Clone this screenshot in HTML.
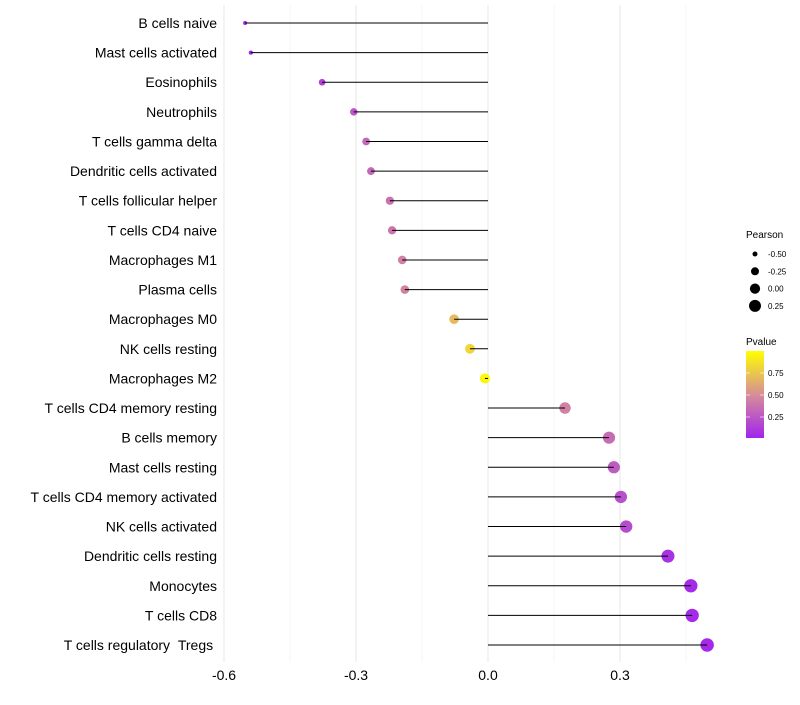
<!DOCTYPE html>
<html><head><meta charset="utf-8"><style>
body{margin:0;background:#fff;font-family:"Liberation Sans",sans-serif}
text{white-space:pre}
</style></head><body>
<svg id="c" width="800" height="700" xmlns="http://www.w3.org/2000/svg"></svg>
<script>
const categories=["B cells naive","Mast cells activated","Eosinophils","Neutrophils","T cells gamma delta","Dendritic cells activated","T cells follicular helper","T cells CD4 naive","Macrophages M1","Plasma cells","Macrophages M0","NK cells resting","Macrophages M2","T cells CD4 memory resting","B cells memory","Mast cells resting","T cells CD4 memory activated","NK cells activated","Dendritic cells resting","Monocytes","T cells CD8","T cells regulatory\u00a0\u00a0Tregs\u00a0"];
const pearson=[-0.552,-0.539,-0.377,-0.305,-0.277,-0.266,-0.223,-0.218,-0.195,-0.189,-0.077,-0.041,-0.007,0.175,0.275,0.286,0.302,0.314,0.409,0.461,0.464,0.498];
const pvalue=[0.03,0.04,0.15,0.25,0.33,0.33,0.38,0.4,0.45,0.46,0.7,0.82,0.97,0.45,0.35,0.28,0.22,0.2,0.08,0.05,0.05,0.04];
const xTicks=[-0.6,-0.3,0.0,0.3];
const xTickLabels=["-0.6","-0.3","0.0","0.3"];
const xMinor=[-0.45,-0.15,0.15,0.45];
const sizeLegend=[-0.5,-0.25,0,0.25];
const pTicks=[0.25,0.5,0.75];

const svg=document.getElementById('c');const NS="http://www.w3.org/2000/svg";
function mk(t,a,p){const e=document.createElementNS(NS,t);for(const k in a)e.setAttribute(k,a[k]);(p||svg).appendChild(e);return e;}
const xS=v=>488+v*440;
const yS=i=>23+i*(645-23)/(categories.length-1);
const rS=v=>Math.sqrt(Math.max(1,26+39.7*v));
function lerp(a,b,t){return a.map((x,i)=>Math.round(x+(b[i]-x)*t));}
function col(p){const A=[160,32,240],M=[213,140,155],B=[255,255,0];let c=p<0.5?lerp(A,M,p/0.5):lerp(M,B,(p-0.5)/0.5);return `rgb(${c})`;}
for(const v of xMinor){const l=mk('line',{x1:xS(v),x2:xS(v),y1:5,y2:662,stroke:'#f4f4f4','stroke-width':1});
}
xTicks.forEach((v,i)=>{const l=mk('line',{x1:xS(v),x2:xS(v),y1:5,y2:662,stroke:'#ebebeb','stroke-width':1.2});

const t=mk('text',{x:xS(v),y:680,'text-anchor':'middle','font-size':14,fill:'#000'});t.textContent=xTickLabels[i];
});
categories.forEach((c,i)=>{const y=yS(i);
const t=mk('text',{x:217,y:y+5,'text-anchor':'end','font-size':14,fill:'#000'});t.textContent=c;

const d=mk('circle',{cx:xS(pearson[i]),cy:y,r:rS(pearson[i]),fill:col(pvalue[i])});

const l=mk('line',{x1:xS(0),x2:xS(pearson[i]),y1:y,y2:y,stroke:'#000','stroke-width':1});
});
const lt=mk('text',{x:746,y:238,'font-size':10});lt.textContent="Pearson";

sizeLegend.forEach((v,i)=>{const y=254+i*17.3;
const c=mk('circle',{cx:755,cy:y,r:rS(v),fill:'#000'});
const t=mk('text',{x:768,y:y+3,'font-size':8});t.textContent=v.toFixed(2);
});
const pt=mk('text',{x:746,y:345,'font-size':10});pt.textContent="Pvalue";

const defs=mk('defs',{});const g=mk('linearGradient',{id:'g',x1:0,y1:1,x2:0,y2:0},defs);
[0,0.25,0.5,0.75,1].forEach(o=>mk('stop',{offset:o,'stop-color':col(0.02+o*0.98)},g));
const cb=mk('rect',{x:746,y:351,width:18,height:87,fill:'url(#g)'});

const pY=p=>439-p*88;
pTicks.forEach(p=>{const t=mk('text',{x:768,y:pY(p)+3,'font-size':8});t.textContent=p.toFixed(2);

mk('line',{x1:746,x2:750,y1:pY(p),y2:pY(p),stroke:'#fff','stroke-opacity':0.6});mk('line',{x1:760,x2:764,y1:pY(p),y2:pY(p),stroke:'#fff','stroke-opacity':0.6});});
</script>
</body></html>
